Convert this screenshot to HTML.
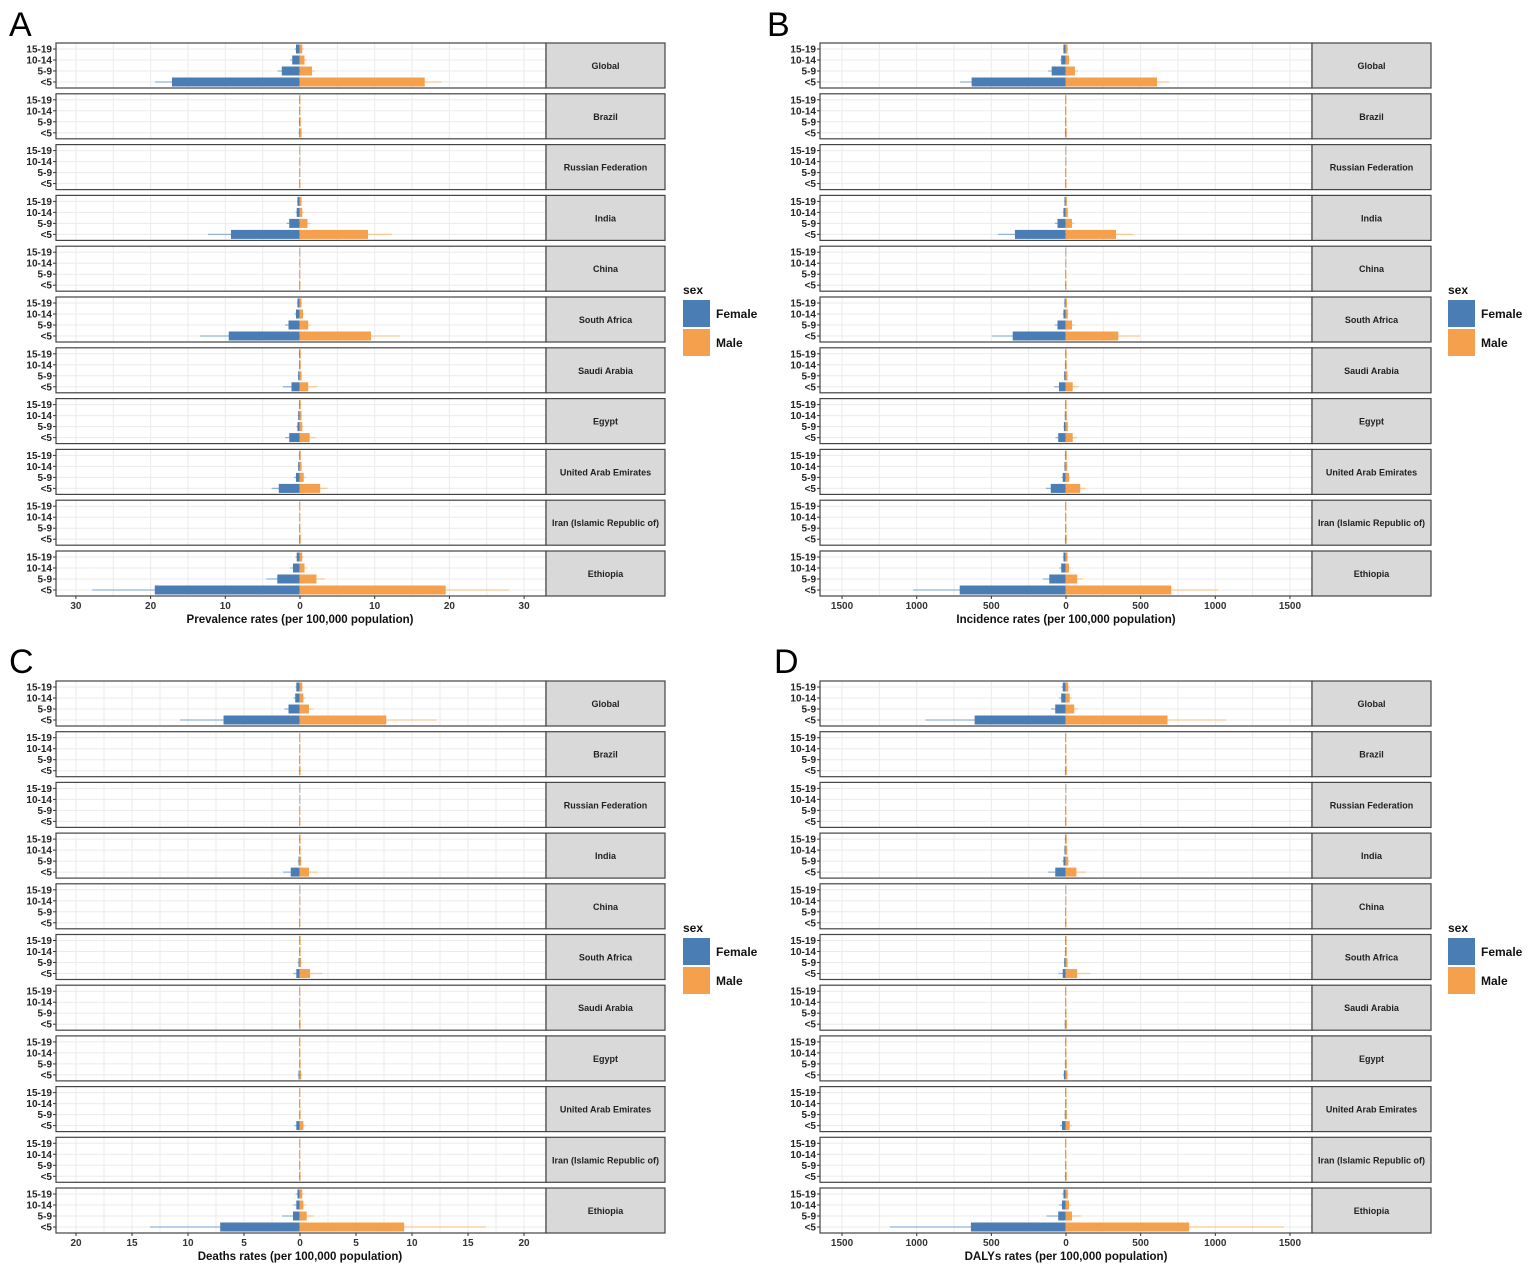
<!DOCTYPE html>
<html><head><meta charset="utf-8">
<style>
body{margin:0;background:#fff;}
svg{display:block;font-family:"Liberation Sans",Arial,sans-serif;}
</style></head>
<body>
<svg id="chart" width="1535" height="1276" viewBox="0 0 1535 1276" xmlns="http://www.w3.org/2000/svg"></svg>
<script>
const countries = ["Global","Brazil","Russian Federation","India","China","South Africa","Saudi Arabia","Egypt","United Arab Emirates","Iran (Islamic Republic of)","Ethiopia"];
const ageGroups = ["15-19","10-14","5-9","<5"];
const prevFemale = [[0.5,1.0,2.4,17.1],[0.05,0.05,0.1,0.1],[0.02,0.02,0.03,0.05],[0.3,0.4,1.4,9.2],[0.02,0.02,0.03,0.05],[0.3,0.5,1.5,9.5],[0.1,0.1,0.2,1.1],[0.1,0.2,0.3,1.4],[0.1,0.2,0.5,2.8],[0.03,0.03,0.05,0.1],[0.4,0.9,3.0,19.4]];
const prevMale   = [[0.3,0.6,1.6,16.7],[0.05,0.05,0.1,0.2],[0.02,0.02,0.03,0.05],[0.2,0.3,1.0,9.1],[0.02,0.02,0.03,0.05],[0.2,0.4,1.1,9.5],[0.1,0.1,0.2,1.1],[0.1,0.2,0.3,1.3],[0.1,0.2,0.5,2.7],[0.03,0.03,0.05,0.1],[0.3,0.6,2.2,19.5]];
const prevFemaleUb = [[0.7,1.3,3.0,19.4],[0.1,0.1,0.15,0.2],[0.03,0.03,0.05,0.08],[0.4,0.6,1.8,12.3],[0.03,0.03,0.05,0.08],[0.4,0.7,2.0,13.4],[0.15,0.15,0.3,2.3],[0.15,0.3,0.5,2.0],[0.15,0.3,0.8,3.8],[0.05,0.05,0.08,0.15],[0.6,1.3,4.5,27.8]];
const prevMaleUb   = [[0.5,0.9,2.0,19.0],[0.1,0.1,0.15,0.3],[0.03,0.03,0.05,0.08],[0.3,0.5,1.4,12.3],[0.03,0.03,0.05,0.08],[0.3,0.6,1.5,13.4],[0.15,0.15,0.3,2.3],[0.15,0.3,0.5,2.1],[0.15,0.3,0.8,3.7],[0.05,0.05,0.08,0.15],[0.5,0.9,3.3,28.0]];

const incFemale = [[15,30,94,630],[2,2,3,5],[1,1,2,3],[8,15,55,340],[1,1,2,3],[8,15,55,355],[4,5,10,45],[4,6,12,50],[5,8,20,100],[2,2,3,5],[15,30,110,710]];
const incMale   = [[10,20,60,610],[2,2,3,5],[1,1,2,3],[6,12,40,335],[1,1,2,3],[6,12,40,350],[4,5,10,45],[4,6,12,45],[5,8,20,95],[2,2,3,5],[10,20,75,705]];
const incFemaleUb = [[20,40,120,710],[3,3,5,8],[2,2,3,5],[12,22,75,455],[2,2,3,5],[12,22,75,495],[6,8,15,80],[6,9,18,70],[8,12,30,135],[3,3,5,8],[22,45,155,1025]];
const incMaleUb   = [[15,30,80,690],[3,3,5,8],[2,2,3,5],[10,18,55,450],[2,2,3,5],[10,18,55,495],[6,8,15,85],[6,9,18,75],[8,12,30,130],[3,3,5,8],[16,30,115,1020]];

const deathFemale = [[0.3,0.4,1.0,6.8],[0.02,0.02,0.03,0.05],[0.01,0.01,0.02,0.03],[0.05,0.05,0.1,0.8],[0.01,0.01,0.02,0.03],[0.05,0.05,0.1,0.3],[0.02,0.02,0.03,0.05],[0.03,0.03,0.05,0.1],[0.02,0.03,0.05,0.3],[0.02,0.02,0.03,0.05],[0.2,0.3,0.6,7.1]];
const deathMale   = [[0.2,0.3,0.8,7.7],[0.02,0.02,0.03,0.05],[0.01,0.01,0.02,0.03],[0.05,0.05,0.1,0.8],[0.01,0.01,0.02,0.03],[0.05,0.05,0.1,0.9],[0.02,0.02,0.03,0.05],[0.03,0.03,0.05,0.1],[0.02,0.03,0.05,0.3],[0.02,0.02,0.03,0.05],[0.2,0.3,0.6,9.3]];
const deathFemaleUb = [[0.4,0.6,1.4,10.7],[0.03,0.03,0.05,0.08],[0.02,0.02,0.03,0.05],[0.08,0.1,0.2,1.5],[0.02,0.02,0.03,0.05],[0.08,0.1,0.2,0.6],[0.03,0.03,0.05,0.08],[0.05,0.05,0.08,0.2],[0.04,0.05,0.08,0.5],[0.03,0.03,0.05,0.08],[0.4,0.6,1.6,13.4]];
const deathMaleUb   = [[0.3,0.5,1.2,12.2],[0.03,0.03,0.05,0.08],[0.02,0.02,0.03,0.05],[0.08,0.1,0.2,1.6],[0.02,0.02,0.03,0.05],[0.08,0.1,0.2,2.0],[0.03,0.03,0.05,0.08],[0.05,0.05,0.08,0.2],[0.04,0.05,0.08,0.5],[0.03,0.03,0.05,0.08],[0.4,0.5,1.2,16.6]];

const dalyFemale = [[20,30,70,610],[2,2,3,5],[1,1,2,3],[5,8,15,70],[1,1,2,3],[4,5,10,20],[2,2,3,6],[3,3,5,12],[3,4,6,25],[2,2,3,5],[15,25,50,635]];
const dalyMale   = [[15,25,55,680],[2,2,3,5],[1,1,2,3],[5,8,15,70],[1,1,2,3],[4,5,10,75],[2,2,3,6],[3,3,5,10],[3,4,6,25],[2,2,3,5],[12,20,40,825]];
const dalyFemaleUb = [[30,45,100,940],[3,3,5,8],[2,2,3,5],[8,12,25,120],[2,2,3,5],[6,8,15,50],[3,3,5,10],[5,5,8,20],[5,6,10,40],[3,3,5,8],[25,45,130,1180]];
const dalyMaleUb   = [[25,40,80,1070],[3,3,5,8],[2,2,3,5],[8,12,25,135],[2,2,3,5],[6,8,15,165],[3,3,5,10],[5,5,8,18],[5,6,10,40],[3,3,5,8],[20,35,100,1460]];

const ticksA = [30,20,10,0,10,20,30];
const ticksB = [1500,1000,500,0,500,1000,1500];
const ticksC = [20,15,10,5,0,5,10,15,20];

const NS="http://www.w3.org/2000/svg";
const svg=document.getElementById('chart');
function mk(tag,attrs,parent){const e=document.createElementNS(NS,tag);for(const k in attrs)e.setAttribute(k,attrs[k]);(parent||svg).appendChild(e);return e;}

const BLUE="#4a7db4",ORANGE="#f5a04c",BLUE_L="#8fb3dc",ORANGE_L="#f9c892";

function panel(cfg){
  const g=mk('g',{});
  
  
  const xs=v=>cfg.zero+v*cfg.scale;
  const lt=mk('text',{x:cfg.letterX,y:cfg.letterY,'font-size':34,'font-family':'"Liberation Sans",sans-serif'},g);
  lt.textContent=cfg.letter;
  
  
  const half=(cfg.ticks.length-1)/2;
  const tickVals=cfg.ticks.map((t,i)=>i<half?-t:t);
  const step=tickVals[1]-tickVals[0];
  for(let c=0;c<countries.length;c++){
    const top=cfg.top0+c*cfg.pitch, h=45;
    const pg=mk('g',{},g);
    
    
    mk('rect',{x:cfg.x0,y:top,width:cfg.x1-cfg.x0,height:h,fill:'#fff'},pg);
    for(let v=tickVals[0]-step;v<=tickVals[tickVals.length-1]+step;v+=step/2){
      const x=xs(v); if(x<=cfg.x0||x>=cfg.x1) continue;
      mk('line',{x1:x,x2:x,y1:top,y2:top+h,stroke:'#ebebeb','stroke-width':1},pg);
    }
    ageGroups.forEach((a,i)=>{
      const y=top+6+i*11;
      mk('line',{x1:cfg.x0,x2:cfg.x1,y1:y,y2:y,stroke:'#ebebeb','stroke-width':1},pg);
      const lab=mk('text',{x:cfg.x0-4,y:y+3.5,'font-size':10,'font-weight':'bold','text-anchor':'end',fill:'#222'},pg);
      lab.textContent=a;
      
      
      mk('line',{x1:cfg.x0-3,x2:cfg.x0,y1:y,y2:y,stroke:'#333'},pg);
      const f=cfg.female[c][i], m=cfg.male[c][i], fu=cfg.femaleUb[c][i], mu=cfg.maleUb[c][i];
      const eb1=mk('line',{x1:xs(-fu),x2:xs(0),y1:y,y2:y,stroke:BLUE_L,'stroke-width':1.3},pg);
      
      
      const eb2=mk('line',{x1:xs(0),x2:xs(mu),y1:y,y2:y,stroke:ORANGE_L,'stroke-width':1.3},pg);
      
      
      const bf=mk('rect',{x:xs(-f)-0.3,y:y-4.5,width:Math.max(0.6,xs(0)-xs(-f)),height:9,fill:BLUE},pg);
      
      
      const bm=mk('rect',{x:xs(0),y:y-4.5,width:Math.max(0,xs(m)-xs(0)),height:9,fill:ORANGE},pg);
      
      
    });
    mk('rect',{x:cfg.x0,y:top,width:cfg.x1-cfg.x0,height:h,fill:'none',stroke:'#444','stroke-width':1.2},pg);
    const st=mk('rect',{x:cfg.x1,y:top,width:cfg.sx1-cfg.x1,height:h,fill:'#d9d9d9',stroke:'#444','stroke-width':1.2},pg);
    
    
    const stt=mk('text',{x:(cfg.x1+cfg.sx1)/2,y:top+h/2+3.5,'font-size':9,'font-weight':'bold','text-anchor':'middle',fill:'#222'},pg);
    stt.textContent=countries[c];
    
    
  }
  const lastBottom=cfg.top0+(countries.length-1)*cfg.pitch+45;
  tickVals.forEach((v,i)=>{
    const x=xs(v);
    mk('line',{x1:x,x2:x,y1:lastBottom,y2:lastBottom+3,stroke:'#333'},g);
    const t=mk('text',{x:x,y:lastBottom+13,'font-size':10,'font-weight':'bold','text-anchor':'middle',fill:'#333'},g);
    t.textContent=cfg.ticks[i];
    
    
  });
  const at=mk('text',{x:cfg.zero,y:lastBottom+27,'font-size':11.5,'font-weight':'bold','text-anchor':'middle',fill:'#111'},g);
  at.textContent=cfg.title;
  
  
  const lg=mk('g',{},g);
  
  
  const ly=cfg.top0+247;
  const lt2=mk('text',{x:cfg.lx,y:ly+4,'font-size':12,'font-weight':'bold',fill:'#111'},lg);
  lt2.textContent='sex';
  const r1=mk('rect',{x:cfg.lx,y:ly+10,width:27,height:27,fill:BLUE},lg);
  
  
  const r2=mk('rect',{x:cfg.lx,y:ly+39,width:27,height:27,fill:ORANGE},lg);
  
  
  const t1=mk('text',{x:cfg.lx+33,y:ly+28,'font-size':12,'font-weight':'bold',fill:'#111'},lg);
  t1.textContent='Female';
  
  
  const t2=mk('text',{x:cfg.lx+33,y:ly+57,'font-size':12,'font-weight':'bold',fill:'#111'},lg);
  t2.textContent='Male';
  
  
}

panel({name:'panel-a-prevalence',letter:'A',letterX:9,letterY:36,x0:56,x1:546,sx1:665,top0:43,pitch:50.8,zero:300,scale:7.47,ticks:ticksA,title:'Prevalence rates (per 100,000 population)',female:prevFemale,male:prevMale,femaleUb:prevFemaleUb,maleUb:prevMaleUb,lx:683});
panel({name:'panel-b-incidence',letter:'B',letterX:767,letterY:36,x0:820,x1:1312,sx1:1431,top0:43,pitch:50.8,zero:1066,scale:0.1493,ticks:ticksB,title:'Incidence rates (per 100,000 population)',female:incFemale,male:incMale,femaleUb:incFemaleUb,maleUb:incMaleUb,lx:1448});
panel({name:'panel-c-deaths',letter:'C',letterX:9,letterY:673,x0:56,x1:546,sx1:665,top0:681,pitch:50.7,zero:300,scale:11.2,ticks:ticksC,title:'Deaths rates (per 100,000 population)',female:deathFemale,male:deathMale,femaleUb:deathFemaleUb,maleUb:deathMaleUb,lx:683});
panel({name:'panel-d-dalys',letter:'D',letterX:774,letterY:673,x0:820,x1:1312,sx1:1431,top0:681,pitch:50.7,zero:1066,scale:0.1493,ticks:ticksB,title:'DALYs rates (per 100,000 population)',female:dalyFemale,male:dalyMale,femaleUb:dalyFemaleUb,maleUb:dalyMaleUb,lx:1448});
</script>
</body></html>
